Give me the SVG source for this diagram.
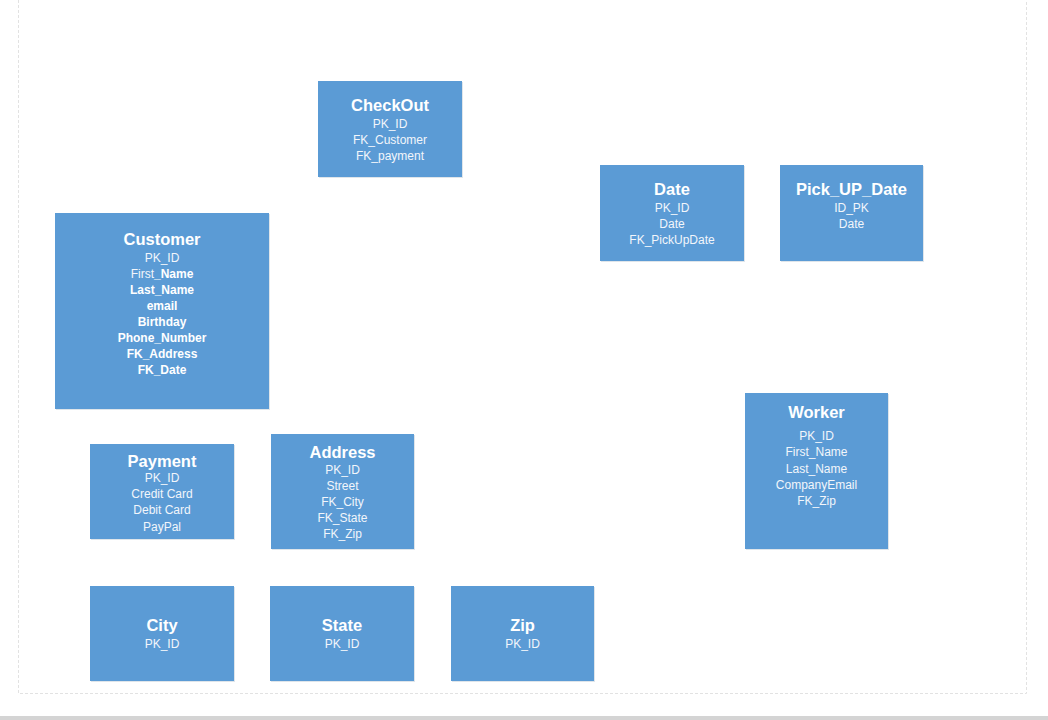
<svg xmlns="http://www.w3.org/2000/svg" width="1048" height="720" viewBox="0 0 1048 720">
<defs>
<style>
.bg{fill:#ffffff}
.page{fill:none;stroke:#e2e2e2;stroke-width:1;stroke-dasharray:3 2}
.bar{fill:#d4d4d4}
.box{fill:#5b9bd5}
.shadow{fill:#c9d3dc;opacity:0.6}
.t{font-family:"Liberation Sans","Open Sans",sans-serif;font-weight:bold;font-size:16.5px;fill:#ffffff;text-anchor:middle}
.f{font-family:"Liberation Sans","Open Sans",sans-serif;font-size:12px;fill:#f2f6fb;text-anchor:middle}
.b{font-weight:bold;fill:#ffffff}
</style>
</defs>
<rect class="bg" x="0" y="0" width="1048" height="720"/>
<path class="page" d="M18.5 0 V693.5 H1026.5 V0"/>
<rect class="bar" x="0" y="716" width="1048" height="4"/>
<g id="connectors"></g>

<g id="checkout">
<rect class="shadow" x="319" y="82" width="144" height="96"/>
<rect class="box" x="318" y="81" width="144" height="96"/>
<text class="t" x="390" y="111">CheckOut</text>
<text class="f" x="390" y="128">PK_ID</text>
<text class="f" x="390" y="144">FK_Customer</text>
<text class="f" x="390" y="160">FK_payment</text>
</g>

<g id="date">
<rect class="shadow" x="601" y="166" width="144" height="96"/>
<rect class="box" x="600" y="165" width="144" height="96"/>
<text class="t" x="672" y="195">Date</text>
<text class="f" x="672" y="212">PK_ID</text>
<text class="f" x="672" y="228">Date</text>
<text class="f" x="672" y="244">FK_PickUpDate</text>
</g>

<g id="pickupdate">
<rect class="shadow" x="781" y="166" width="143" height="96"/>
<rect class="box" x="780" y="165" width="143" height="96"/>
<text class="t" x="851.5" y="195">Pick_UP_Date</text>
<text class="f" x="851.5" y="212">ID_PK</text>
<text class="f" x="851.5" y="228">Date</text>
</g>

<g id="customer">
<rect class="shadow" x="56" y="214" width="214" height="196"/>
<rect class="box" x="55" y="213" width="214" height="196"/>
<text class="t" x="162" y="245">Customer</text>
<text class="f" x="162" y="262">PK_ID</text>
<text class="f" x="162" y="278">First<tspan class="b">_Name</tspan></text>
<text class="f b" x="162" y="294">Last_Name</text>
<text class="f b" x="162" y="310">email</text>
<text class="f b" x="162" y="326">Birthday</text>
<text class="f b" x="162" y="342">Phone_Number</text>
<text class="f b" x="162" y="358">FK_Address</text>
<text class="f b" x="162" y="374">FK_Date</text>
</g>

<g id="payment">
<rect class="shadow" x="91" y="445" width="144" height="95"/>
<rect class="box" x="90" y="444" width="144" height="95"/>
<text class="t" x="162" y="467">Payment</text>
<text class="f" x="162" y="482">PK_ID</text>
<text class="f" x="162" y="498">Credit Card</text>
<text class="f" x="162" y="514">Debit Card</text>
<text class="f" x="162" y="531">PayPal</text>
</g>

<g id="address">
<rect class="shadow" x="272" y="435" width="143" height="115"/>
<rect class="box" x="271" y="434" width="143" height="115"/>
<text class="t" x="342.5" y="458">Address</text>
<text class="f" x="342.5" y="474">PK_ID</text>
<text class="f" x="342.5" y="490">Street</text>
<text class="f" x="342.5" y="506">FK_City</text>
<text class="f" x="342.5" y="522">FK_State</text>
<text class="f" x="342.5" y="538">FK_Zip</text>
</g>

<g id="worker">
<rect class="shadow" x="746" y="394" width="143" height="156"/>
<rect class="box" x="745" y="393" width="143" height="156"/>
<text class="t" x="816.5" y="418">Worker</text>
<text class="f" x="816.5" y="440">PK_ID</text>
<text class="f" x="816.5" y="456">First_Name</text>
<text class="f" x="816.5" y="473">Last_Name</text>
<text class="f" x="816.5" y="489">CompanyEmail</text>
<text class="f" x="816.5" y="505">FK_Zip</text>
</g>

<g id="city">
<rect class="shadow" x="91" y="587" width="144" height="95"/>
<rect class="box" x="90" y="586" width="144" height="95"/>
<text class="t" x="162" y="631">City</text>
<text class="f" x="162" y="648">PK_ID</text>
</g>

<g id="state">
<rect class="shadow" x="271" y="587" width="144" height="95"/>
<rect class="box" x="270" y="586" width="144" height="95"/>
<text class="t" x="342" y="631">State</text>
<text class="f" x="342" y="648">PK_ID</text>
</g>

<g id="zip">
<rect class="shadow" x="452" y="587" width="143" height="95"/>
<rect class="box" x="451" y="586" width="143" height="95"/>
<text class="t" x="522.5" y="631">Zip</text>
<text class="f" x="522.5" y="648">PK_ID</text>
</g>
</svg>
